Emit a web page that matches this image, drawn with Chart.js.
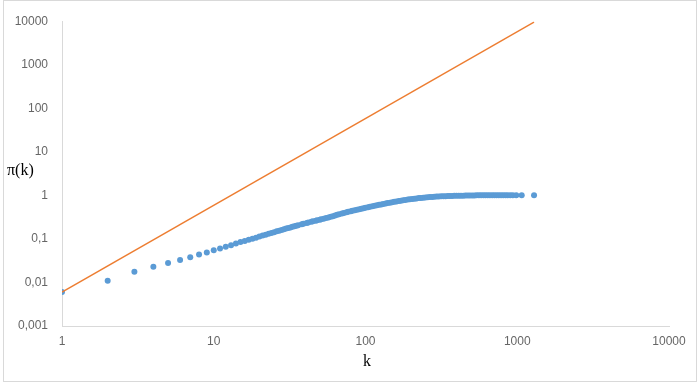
<!DOCTYPE html>
<html>
<head>
<meta charset="utf-8">
<script src="https://cdn.jsdelivr.net/npm/chart.js@4/dist/chart.umd.min.js"></script>
<style>
  body { margin: 0; background: #fff; }
  #wrap { width: 698px; height: 383px; position: relative; }
</style>
</head>
<body>
<div id="wrap"><canvas id="chart" width="698" height="383"></canvas></div>
<script>
// valores
var kValues = [1, 2, 3, 4, 5, 6, 7, 8, 9, 10, 11, 12, 13, 14, 15, 16, 17, 18, 19,
    20, 21, 22, 23, 24, 25, 26, 27, 28, 29, 30, 31, 32, 33, 34, 35, 36, 38, 39, 41, 42,
    44, 45, 47, 48, 50, 51, 53, 55, 57, 59, 61, 63, 65, 67, 70, 72, 75, 77, 80, 82, 85,
    88, 91, 94, 97, 100, 104, 107, 111, 115, 119, 123, 127, 131, 136, 140, 145, 150,
    155, 160, 166, 171, 177, 183, 190, 196, 203, 210, 217, 225, 232, 240, 248, 257,
    266, 275, 284, 294, 304, 315, 326, 337, 349, 360, 372, 385, 398, 412, 426, 441,
    456, 472, 488, 505, 522, 540, 559, 578, 598, 618, 639, 661, 684, 707, 731, 756,
    782, 809, 837, 865, 900, 935, 985, 1070, 1290];
var piValues = [0.006, 0.011, 0.0175, 0.023, 0.028, 0.033, 0.038, 0.044, 0.049, 0.055,
    0.06, 0.066, 0.072, 0.078, 0.085, 0.09, 0.096, 0.101, 0.106,
    0.113, 0.119, 0.125, 0.131, 0.137, 0.143, 0.149, 0.155, 0.161, 0.167, 0.173, 0.178,
    0.184, 0.19, 0.195, 0.201, 0.207, 0.218, 0.223, 0.233, 0.238, 0.248, 0.253, 0.263,
    0.268, 0.277, 0.282, 0.292, 0.302, 0.312, 0.322, 0.333, 0.345, 0.357, 0.37, 0.385,
    0.395, 0.41, 0.42, 0.434, 0.443, 0.456, 0.47, 0.483, 0.495, 0.508, 0.52, 0.536,
    0.548, 0.563, 0.578, 0.593, 0.607, 0.621, 0.635, 0.652, 0.665, 0.68, 0.695, 0.71,
    0.725, 0.741, 0.755, 0.77, 0.785, 0.8, 0.815, 0.828, 0.84, 0.853, 0.865, 0.875,
    0.885, 0.895, 0.905, 0.913, 0.92, 0.93, 0.94, 0.945, 0.95, 0.955, 0.96, 0.965,
    0.97, 0.972, 0.975, 0.978, 0.98, 0.983, 0.985, 0.988, 0.99, 0.993, 0.995, 0.997,
    1.0, 1.0, 1.0, 1.0, 1.0, 1.0, 1.0, 1.0, 1.0, 1.0, 1.0, 1.0, 1.0, 1.0, 1.0, 1.0,
    1.0, 1.0, 1.0, 1.0, 1.0];
var lineK = [1, 1290];
var linePi = [0.006, 9500];

var xTicks = [1, 10, 100, 1000, 10000];
var xTickLabels = ['1', '10', '100', '1000', '10000'];
var yTicks = [0.001, 0.01, 0.1, 1, 10, 100, 1000, 10000];
var yTickLabels = ['0,001', '0,01', '0,1', '1', '10', '100', '1000', '10000'];

function toPoints(xs, ys) {
    return xs.map(function (x, i) { return { x: x, y: ys[i] }; });
}

var extras = {
    id: 'extras',
    beforeDraw: function (chart) {
        var ctx = chart.ctx;
        ctx.save();
        ctx.fillStyle = '#fff';
        ctx.fillRect(0, 0, chart.width, chart.height);
        ctx.strokeStyle = '#d9d9d9';
        ctx.lineWidth = 1;
        ctx.strokeRect(3.5, 0.5, 693, 381);
        ctx.restore();
    },
    afterDraw: function (chart) {
        var ctx = chart.ctx;
        ctx.save();
        ctx.fillStyle = '#000';
        ctx.font = '16px "Liberation Serif", "Times New Roman", serif';
        ctx.textBaseline = 'middle';
        ctx.textAlign = 'left';
        ctx.fillText('π(k)', 7, 171);
        ctx.textAlign = 'center';
        ctx.fillText('k', 367, 362);
        ctx.restore();
    }
};

new Chart(document.getElementById('chart').getContext('2d'), {
    type: 'scatter',
    data: {
        datasets: [{
            label: 'pi',
            data: toPoints(kValues, piValues),
            backgroundColor: '#5b9bd5',
            borderColor: '#5b9bd5',
            borderWidth: 0,
            pointRadius: 3,
            order: 2
        }, {
            label: 'recta',
            data: toPoints(lineK, linePi),
            showLine: true,
            borderColor: '#ed7d31',
            borderWidth: 1.4,
            pointRadius: 0,
            order: 1
        }]
    },
    options: {
        responsive: false,
        animation: false,
        layout: { padding: { top: 13, right: 29, left: 0, bottom: 0 } },
        plugins: { legend: { display: false }, tooltip: { enabled: false } },
        scales: {
            x: {
                type: 'logarithmic',
                min: 1,
                max: 10000,
                afterBuildTicks: function (s) { s.ticks = xTicks.map(function (v) { return { value: v }; }); },
                afterFit: function (s) { s.height = 57; },
                grid: { display: false, drawTicks: false },
                border: { display: true, color: '#d9d9d9', width: 1 },
                ticks: {
                    padding: 8,
                    color: '#666',
                    font: { family: '"Liberation Sans", Arial, sans-serif', size: 12 },
                    maxRotation: 0,
                    callback: function (v) { var i = xTicks.indexOf(v); return i >= 0 ? xTickLabels[i] : ''; }
                }
            },
            y: {
                type: 'logarithmic',
                min: 0.001,
                max: 10000,
                afterBuildTicks: function (s) { s.ticks = yTicks.map(function (v) { return { value: v }; }); },
                afterFit: function (s) { s.width = 62; },
                grid: { display: false, drawTicks: false },
                border: { display: true, color: '#d9d9d9', width: 1 },
                ticks: {
                    padding: 14,
                    color: '#666',
                    font: { family: '"Liberation Sans", Arial, sans-serif', size: 12 },
                    callback: function (v) {
                        for (var i = 0; i < yTicks.length; i++) {
                            if (Math.abs(Math.log10(v) - Math.log10(yTicks[i])) < 1e-6) return yTickLabels[i];
                        }
                        return '';
                    }
                }
            }
        }
    },
    plugins: [extras]
});
</script>
</body>
</html>
